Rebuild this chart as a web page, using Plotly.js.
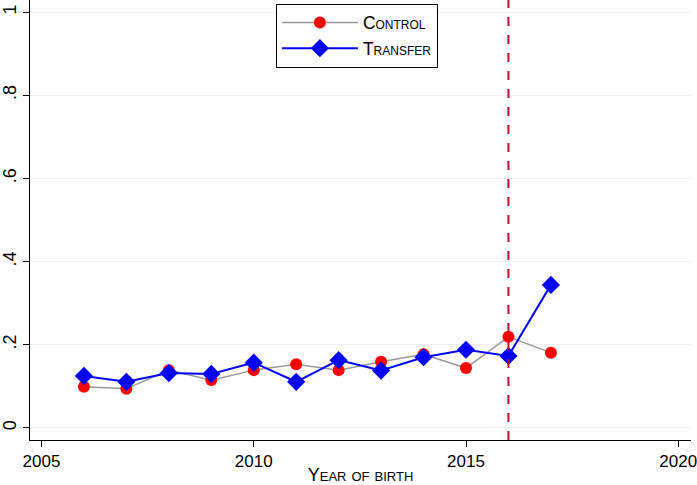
<!DOCTYPE html>
<html>
<head>
<meta charset="utf-8">
<script src="https://cdn.plot.ly/plotly-3.0.1.min.js"></script>
<style>html,body{margin:0;padding:0;background:#fff;}#chart{width:697px;height:485px;}</style>
</head>
<body>
<div id="chart"></div>
<script>
const years = [2006, 2007, 2008, 2009, 2010, 2011, 2012, 2013, 2014, 2015, 2016, 2017];
const controlValues = [0.099, 0.094, 0.139, 0.115, 0.139, 0.153, 0.139, 0.159, 0.177, 0.144, 0.219, 0.181];
const transferValues = [0.125, 0.111, 0.132, 0.130, 0.157, 0.111, 0.163, 0.138, 0.170, 0.188, 0.173, 0.344];
const cutoffYear = 2016;
const xTicks = [2005, 2010, 2015, 2020];
const yTicks = [0, 0.2, 0.4, 0.6, 0.8, 1];
const yTickLabels = ['0', '.2', '.4', '.6', '.8', '1'];

const FONT = '"Liberation Sans", Arial, sans-serif';

const traces = [
  {
    x: years, y: controlValues, name: 'Control', type: 'scatter', mode: 'lines+markers',
    line: {color: '#999999', width: 1.5},
    marker: {color: '#ff0000', size: 12, symbol: 'circle'}
  },
  {
    x: years, y: transferValues, name: 'Transfer', type: 'scatter', mode: 'lines+markers',
    line: {color: '#0000ff', width: 2},
    marker: {color: '#0000ff', size: 14, symbol: 'diamond'}
  }
];

const layout = {
  width: 697, height: 485,
  margin: {l: 30, r: 6, t: 0, b: 45},
  paper_bgcolor: '#ffffff', plot_bgcolor: '#ffffff',
  font: {family: FONT, color: '#000', size: 18},
  showlegend: true,
  legend: {
    x: 0.372, y: 0.992, xanchor: 'left', yanchor: 'top',
    bordercolor: '#000', borderwidth: 1, bgcolor: '#fff',
    font: {family: FONT, size: 17.5, variant: 'small-caps'},
    itemwidth: 76,
    tracegroupgap: 0
  },
  xaxis: {
    range: [2004.73, 2020.3],
    tickvals: xTicks, ticktext: xTicks.map(String),
    ticks: 'outside', ticklen: 6, tickcolor: '#000', tickwidth: 1,
    showline: true, linecolor: '#000', linewidth: 1,
    showgrid: false, zeroline: false,
    ticklabeloverflow: 'allow',
    tickfont: {family: FONT, size: 17},
    title: {text: 'Year of birth', font: {family: FONT, size: 18, variant: 'small-caps'}, standoff: 4}
  },
  yaxis: {
    range: [-0.029, 1.029],
    tickvals: yTicks, ticktext: yTickLabels,
    tickangle: -90,
    ticks: 'outside', ticklen: 6, tickcolor: '#000', tickwidth: 1,
    showline: true, linecolor: '#000', linewidth: 1,
    showgrid: true, gridcolor: '#eaf0f3', gridwidth: 1,
    zeroline: false,
    tickfont: {family: FONT, size: 18}
  },
  shapes: [{
    type: 'line', xref: 'x', yref: 'paper',
    x0: cutoffYear, x1: cutoffYear, y0: 0, y1: 1,
    line: {color: '#b3122f', width: 2, dash: 'dash'}
  }]
};

Plotly.newPlot('chart', traces, layout, {displayModeBar: false, staticPlot: true});
</script>
</body>
</html>
